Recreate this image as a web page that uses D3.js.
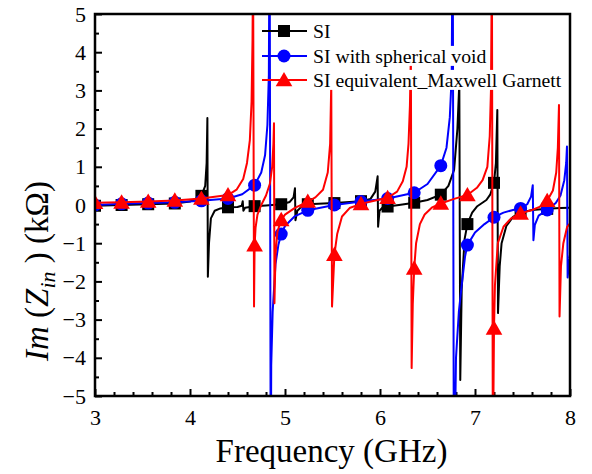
<!DOCTYPE html>
<html>
<head>
<meta charset="utf-8">
<script src="https://cdn.jsdelivr.net/npm/d3@7"></script>
<style>
  html, body { margin: 0; padding: 0; background: #fff; }
  svg { display: block; }
  text { font-family: "Liberation Serif", "Times New Roman", serif; fill: #000; }
</style>
</head>
<body>
<svg id="chart" width="592" height="474"></svg>
<script>
// Imaginary part of the input impedance (kOhm) versus frequency (GHz)
const xTicks = [3, 4, 5, 6, 7, 8];
const yTicks = [-5, -4, -3, -2, -1, 0, 1, 2, 3, 4, 5];
const markerFreqs = [3.00, 3.28, 3.56, 3.84, 4.12, 4.40, 4.68, 4.96, 5.24, 5.52,
                     5.80, 6.08, 6.36, 6.64, 6.92, 7.20, 7.48, 7.76];

const seriesNames = ["SI", "SI with spherical void", "SI equivalent_Maxwell Garnett"];

// [frequency GHz, Im(Zin) kOhm]
const siData = [
  [3.00,-0.02],[3.28,0.00],[3.56,0.02],[3.84,0.04],[4.00,0.09],[4.12,0.24],[4.16,0.50],
  [4.175,1.10],[4.183,2.28],[4.188,-1.88],[4.20,-1.00],[4.22,-0.35],[4.26,-0.15],
  [4.32,-0.09],[4.40,-0.06],[4.50,-0.05],[4.545,-0.02],[4.555,0.10],[4.562,-0.15],
  [4.58,-0.07],[4.68,-0.03],[4.80,-0.01],[4.96,0.02],[5.05,0.08],[5.09,0.20],
  [5.105,0.44],[5.11,-0.40],[5.13,-0.15],[5.18,-0.03],[5.24,0.02],[5.52,0.05],
  [5.80,0.10],[5.90,0.16],[5.95,0.35],[5.975,0.75],[5.98,-0.57],[5.995,-0.15],
  [6.03,-0.06],[6.08,-0.04],[6.20,0.00],[6.36,0.06],[6.50,0.13],[6.64,0.27],
  [6.72,0.50],[6.78,0.92],[6.815,2.00],[6.835,3.20],[6.845,-4.58],[6.86,-2.20],
  [6.89,-0.90],[6.92,-0.50],[6.97,-0.20],[7.02,-0.04],[7.12,0.13],[7.16,0.27],
  [7.20,0.58],[7.22,1.10],[7.235,2.49],[7.242,-2.83],[7.26,-1.60],[7.28,-1.00],
  [7.33,-0.55],[7.40,-0.31],[7.48,-0.20],[7.60,-0.13],[7.76,-0.10],[7.90,-0.08],
  [8.00,-0.07]
];

const voidData = [
  [3.00,0.00],[3.28,0.03],[3.56,0.05],[3.84,0.07],[4.12,0.11],[4.40,0.17],[4.55,0.28],
  [4.68,0.52],[4.75,0.85],[4.79,1.30],[4.815,2.10],[4.83,3.40],[4.838,8.0],
  [4.850,-8.0],[4.855,-4.20],[4.87,-2.80],[4.90,-1.55],[4.93,-1.05],[4.96,-0.76],
  [5.00,-0.55],[5.10,-0.30],[5.24,-0.14],[5.52,0.00],[5.80,0.09],[6.08,0.17],
  [6.36,0.32],[6.50,0.55],[6.64,1.03],[6.70,1.50],[6.735,2.30],[6.755,3.40],
  [6.765,8.0],[6.778,-8.0],[6.80,-4.00],[6.83,-2.80],[6.86,-2.10],[6.895,-1.35],
  [6.92,-1.05],[7.00,-0.72],[7.10,-0.50],[7.20,-0.32],[7.30,-0.20],[7.40,-0.13],
  [7.48,-0.09],[7.55,0.02],[7.59,0.22],[7.608,0.52],[7.615,-0.92],[7.63,-0.52],
  [7.67,-0.28],[7.76,-0.13],[7.85,0.05],[7.90,0.25],[7.94,0.65],[7.96,1.10],
  [7.968,1.53],[7.975,-1.90],[7.99,-1.50],[8.00,-1.30]
];

const mgData = [
  [3.00,0.06],[3.28,0.07],[3.56,0.09],[3.84,0.12],[4.12,0.17],[4.40,0.26],[4.49,0.40],
  [4.56,0.68],[4.60,1.10],[4.63,1.70],[4.648,2.70],[4.658,4.30],[4.664,6.50],
  [4.674,-2.66],[4.68,-1.05],[4.69,-0.60],[4.71,-0.25],[4.75,0.00],[4.80,0.25],
  [4.84,0.55],[4.865,1.00],[4.878,1.60],[4.884,2.14],[4.889,-2.57],[4.90,-1.30],
  [4.92,-0.70],[4.96,-0.39],[5.00,-0.25],[5.10,-0.08],[5.24,0.09],[5.32,0.20],
  [5.40,0.40],[5.45,0.85],[5.475,1.60],[5.487,3.20],[5.495,-2.66],[5.52,-1.30],
  [5.55,-0.75],[5.60,-0.30],[5.68,-0.08],[5.80,0.03],[5.95,0.12],[6.08,0.19],
  [6.18,0.35],[6.24,0.62],[6.28,1.00],[6.30,1.60],[6.315,2.60],[6.325,4.00],
  [6.333,-4.27],[6.345,-2.60],[6.36,-1.66],[6.38,-1.00],[6.42,-0.50],[6.47,-0.25],
  [6.55,-0.06],[6.64,0.04],[6.78,0.16],[6.92,0.26],[7.02,0.45],[7.08,0.65],
  [7.13,1.00],[7.155,1.80],[7.168,3.00],[7.178,6.50],[7.188,-7.00],[7.20,-3.23],
  [7.21,-2.10],[7.24,-1.00],[7.30,-0.57],[7.38,-0.35],[7.48,-0.22],[7.60,-0.13],
  [7.70,-0.03],[7.76,0.11],[7.82,0.38],[7.855,0.85],[7.872,1.50],[7.884,2.62],
  [7.89,-2.92],[7.905,-1.60],[7.93,-1.00],[7.97,-0.57],[8.00,-0.48]
];

const seriesColors = ["#000000", "#0000ff", "#ff0000"];
const seriesShapes = ["square", "circle", "triangle"];

const serif = '"Liberation Serif", "Times New Roman", serif';
const svg = d3.select("#chart");
const margin = { left: 95, right: 22, top: 14, bottom: 78 };
const W = 592, H = 474;
const x = d3.scaleLinear().domain([3, 8]).range([margin.left, W - margin.right]);
const y = d3.scaleLinear().domain([-5, 5]).range([H - margin.bottom, margin.top]);

svg.append("defs").append("clipPath").attr("id", "plotClip")
  .append("rect")
  .attr("x", x(3)).attr("y", y(5))
  .attr("width", x(8) - x(3)).attr("height", y(-5) - y(5));

// minor tick positions between the labelled ones
function minorVals(a, b, step) {
  const out = [];
  for (let v = a; v <= b + 1e-9; v += step) {
    const r = Math.round(v * 1000) / 1000;
    if (Math.abs(r - Math.round(r)) > 1e-6) out.push(r);
  }
  return out;
}

const xAxis = d3.axisBottom(x).tickValues(xTicks).tickFormat(d3.format("d"))
  .tickSizeInner(-7).tickSizeOuter(0).tickPadding(13);
const xMinor = d3.axisBottom(x).tickValues(minorVals(3, 8, 0.2)).tickFormat("")
  .tickSizeInner(-4).tickSizeOuter(0);
const yAxis = d3.axisLeft(y).tickValues(yTicks).tickFormat(d3.format("d"))
  .tickSizeInner(-7).tickSizeOuter(0).tickPadding(9);
const yMinor = d3.axisLeft(y).tickValues(minorVals(-5, 5, 0.5)).tickFormat("")
  .tickSizeInner(-4).tickSizeOuter(0);

function styleAxis(g) {
  g.attr("font-family", serif).attr("font-size", 22);
  g.select(".domain").remove();
  g.selectAll(".tick line").attr("stroke", "#000").attr("stroke-width", 2);
  g.selectAll(".tick text").attr("fill", "#000");
}

svg.append("g").attr("transform", `translate(0,${y(-5)})`).call(xMinor).call(styleAxis);
svg.append("g").attr("transform", `translate(0,${y(-5)})`).call(xAxis).call(styleAxis);
svg.append("g").attr("transform", `translate(${x(3)},0)`).call(yMinor).call(styleAxis);
svg.append("g").attr("transform", `translate(${x(3)},0)`).call(yAxis).call(styleAxis);

// curves with their symbols
const line = d3.line().x(d => x(d[0])).y(d => y(d[1]));
const allSeries = [siData, voidData, mgData];

function drawMarker(g, shape, cx, cy, color) {
  if (shape === "square") {
    g.append("rect").attr("x", cx - 6).attr("y", cy - 6).attr("width", 12).attr("height", 12)
      .attr("fill", color);
  } else if (shape === "circle") {
    g.append("circle").attr("cx", cx).attr("cy", cy).attr("r", 6.5).attr("fill", color);
  } else {
    const s = d3.symbol().type(d3.symbolTriangle).size(120);
    g.append("path").attr("d", s()).attr("transform", `translate(${cx},${cy + 1.5})`)
      .attr("fill", color);
  }
}

const plot = svg.append("g").attr("clip-path", "url(#plotClip)");
allSeries.forEach((data, i) => {
  const g = plot.append("g");
  g.append("path").datum(data).attr("d", line)
    .attr("fill", "none").attr("stroke", seriesColors[i])
    .attr("stroke-width", 2).attr("stroke-linejoin", "round");
  data.filter(d => markerFreqs.some(f => Math.abs(f - d[0]) < 1e-6))
    .forEach(d => drawMarker(g, seriesShapes[i], x(d[0]), y(d[1]), seriesColors[i]));
});

// frame
svg.append("rect")
  .attr("x", x(3)).attr("y", y(5))
  .attr("width", x(8) - x(3)).attr("height", y(-5) - y(5))
  .attr("fill", "none").attr("stroke", "#000").attr("stroke-width", 2.5);

// legend, each label on its own white box
const legend = svg.append("g");
const legendRows = [31, 56, 80];
seriesNames.forEach((name, i) => {
  const ly = legendRows[i];
  const row = legend.append("g");
  const bg = row.append("rect").attr("fill", "#fff");
  const t = row.append("text").attr("x", 313).attr("y", ly).attr("dy", "0.35em")
    .style("font-size", "19.7px").text(name);
  const bb = t.node().getBBox();
  bg.attr("x", bb.x - 1).attr("y", bb.y + 1).attr("width", bb.width + 2).attr("height", bb.height - 2);
  row.append("line").attr("x1", 262).attr("x2", 307).attr("y1", ly).attr("y2", ly)
    .attr("stroke", seriesColors[i]).attr("stroke-width", 2);
  drawMarker(row, seriesShapes[i], 284, ly, seriesColors[i]);
});

// axis titles
svg.append("text")
  .attr("x", (x(3) + x(8)) / 2 - 1).attr("y", 462)
  .attr("text-anchor", "middle")
  .style("font-size", "33px")
  .text("Frequency (GHz)");

const yt = svg.append("text")
  .attr("transform", `translate(48,${(y(5) + y(-5)) / 2 + 66}) rotate(-90)`)
  .attr("text-anchor", "middle")
  .style("font-size", "33px");
yt.append("tspan").style("font-style", "italic").text("Im");
yt.append("tspan").text(" (");
yt.append("tspan").style("font-style", "italic").text("Z");
yt.append("tspan").style("font-style", "italic").style("font-size", "22px").attr("dy", 7).text("in");
yt.append("tspan").attr("dy", -7).text(" ) (k\u03A9)");
</script>
</body>
</html>
